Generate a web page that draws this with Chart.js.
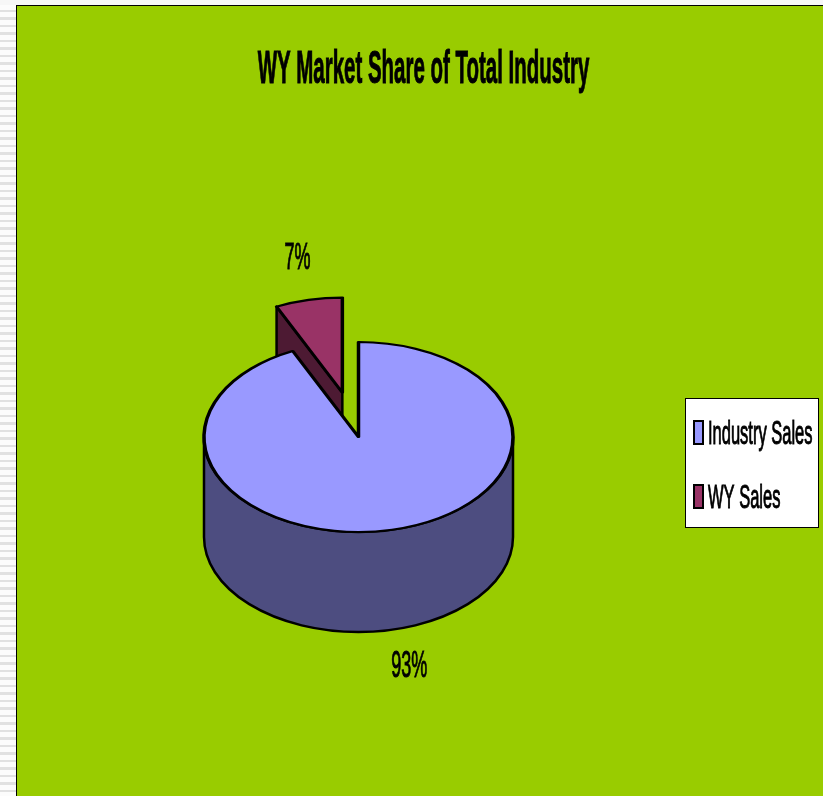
<!DOCTYPE html>
<html>
<head>
<meta charset="utf-8">
<script src="https://cdn.jsdelivr.net/npm/chart.js@4.4.1/dist/chart.umd.min.js"></script>
<style>
html,body{margin:0;padding:0;width:823px;height:796px;overflow:hidden;background:#f7f7f7;}
#strip{position:absolute;left:0;top:5px;width:16px;height:791px;background:repeating-linear-gradient(to bottom,#fcfcfc 0,#fcfcfc 5px,#e1e1e1 5px,#e1e1e1 7.5px);}
#frame{position:absolute;left:16px;top:5px;width:807px;height:791px;box-sizing:border-box;border-left:1px solid #000;border-top:1px solid #000;background:#99cc00;}
canvas{display:block;}
</style>
</head>
<body>
<div id="strip"></div>
<div id="frame"><canvas id="pie" width="806" height="790"></canvas></div>
<script>
// chart data
const TITLE   = 'WY Market Share of Total Industry';
const labels  = ['Industry Sales', 'WY Sales'];
const shares  = [93, 7];
const fills   = ['#9999ff', '#993366'];
const explode = [0, 74];   // pulled-out distance of each slice

const SQUASH = 0.615;  // tilt of the pie (ellipse height / width)
const DEPTH  = 100;    // thickness of the pie

function darker(hex, f) {
  const n = parseInt(hex.slice(1), 16);
  const r = Math.round(((n >> 16) & 255) * f), g = Math.round(((n >> 8) & 255) * f), b = Math.round((n & 255) * f);
  return 'rgb(' + r + ',' + g + ',' + b + ')';
}

function centerY(chart) { return (chart.chartArea.top + chart.chartArea.bottom) / 2; }

// squashed geometry of one arc
function geom(chart, el) {
  const y0 = centerY(chart);
  return { cx: el.x, cy: y0 + (el.y - y0) * SQUASH, r: el.outerRadius };
}

function drawWalls(ctx, g, s, e, col) {
  const K = SQUASH;
  // curved outer wall, only the part facing us (lower half)
  [[0, Math.PI], [2 * Math.PI, 3 * Math.PI], [-2 * Math.PI, -Math.PI]].forEach(function (rng) {
    const lo = Math.max(s, rng[0]), hi = Math.min(e, rng[1]);
    if (hi - lo < 1e-4) return;
    ctx.beginPath();
    ctx.ellipse(g.cx, g.cy, g.r, g.r * K, 0, lo, hi, false);
    ctx.lineTo(g.cx + g.r * Math.cos(hi), g.cy + g.r * K * Math.sin(hi) + DEPTH);
    ctx.ellipse(g.cx, g.cy + DEPTH, g.r, g.r * K, 0, hi, lo, true);
    ctx.closePath();
    ctx.fillStyle = col; ctx.fill(); ctx.stroke();
  });
  // radial faces
  function face(a) {
    const px = g.cx + g.r * Math.cos(a), py = g.cy + g.r * K * Math.sin(a);
    ctx.beginPath();
    ctx.moveTo(g.cx, g.cy); ctx.lineTo(px, py); ctx.lineTo(px, py + DEPTH); ctx.lineTo(g.cx, g.cy + DEPTH);
    ctx.closePath();
    ctx.fillStyle = col; ctx.fill(); ctx.stroke();
  }
  if (Math.cos(s) < -1e-6) face(s);
  if (Math.cos(e) > 1e-6) face(e);
}

function squashText(ctx, txt, x, y, font, sx, align, base, bold) {
  ctx.save();
  ctx.font = font; ctx.fillStyle = '#000'; ctx.strokeStyle = '#000';
  ctx.textAlign = align; ctx.textBaseline = base || 'alphabetic';
  ctx.translate(x, y); ctx.scale(sx, 1);
  ctx.fillText(txt, 0, 0);
  if (bold) { ctx.lineWidth = bold; ctx.strokeText(txt, 0, 0); }
  ctx.restore();
}

const pie3d = {
  id: 'pie3d',
  afterDatasetsUpdate(chart) {
    const ds = chart.data.datasets[0];
    chart.getDatasetMeta(0).data.forEach(function (el, i) {
      const d = ds.explode[i] || 0, half = (el.startAngle + el.endAngle) / 2;
      el.x += Math.cos(half) * d; el.y += Math.sin(half) * d;
    });
  },
  beforeDatasetsDraw(chart) {
    const ctx = chart.ctx, meta = chart.getDatasetMeta(0), ds = chart.data.datasets[0];
    const y0 = centerY(chart);
    const order = meta.data.map(function (el, i) { return i; })
      .sort(function (a, b) { return meta.data[a].y - meta.data[b].y; });
    ctx.save();
    ctx.strokeStyle = '#000'; ctx.lineWidth = 2.5; ctx.lineJoin = 'round';
    order.forEach(function (i) {
      const el = meta.data[i];
      drawWalls(ctx, geom(chart, el), el.startAngle, el.endAngle, darker(ds.backgroundColor[i], 0.5));
    });
    ctx.restore();
    // top faces: let the library draw them, squashed
    ctx.save();
    ctx.translate(0, y0); ctx.scale(1, SQUASH); ctx.translate(0, -y0);
  },
  afterDatasetsDraw(chart) {
    chart.ctx.restore();
  },
  afterDraw(chart) {
    const ctx = chart.ctx, meta = chart.getDatasetMeta(0);
    const vals = chart.data.datasets[0].data;
    const total = vals.reduce(function (s, v) { return s + v; }, 0);
    const y0 = centerY(chart);

    squashText(ctx, TITLE, 406.5, 77, 'bold 46px "Liberation Sans", Arial, sans-serif', 0.445, 'center', 'alphabetic', 1);

    meta.data.forEach(function (el, i) {
      const half = (el.startAngle + el.endAngle) / 2, rr = el.outerRadius * 1.42;
      const x = el.x + Math.cos(half) * rr + 3;
      const y = y0 + (el.y - y0 + Math.sin(half) * rr) * SQUASH + (Math.sin(half) > 0 ? DEPTH : 0) - 2;
      squashText(ctx, Math.round(vals[i] / total * 100) + '%', x, y, '36px "Liberation Sans", Arial, sans-serif', 0.5, 'center', 'middle', 1);
    });

    // legend
    ctx.save();
    ctx.fillStyle = '#fff'; ctx.fillRect(668, 392, 134, 130);
    ctx.strokeStyle = '#000'; ctx.lineWidth = 1; ctx.strokeRect(668.5, 392.5, 133, 129);
    chart.data.labels.forEach(function (lab, i) {
      const base = 438 + i * 64;
      ctx.fillStyle = chart.data.datasets[0].backgroundColor[i];
      ctx.fillRect(677, base - 23, 9, 23);
      ctx.lineWidth = 2; ctx.strokeRect(677, base - 23, 9, 23);
      squashText(ctx, lab, 691, base, '33px "Liberation Sans", Arial, sans-serif', 0.5, 'left', 'alphabetic', 1);
    });
    ctx.restore();
  }
};

new Chart(document.getElementById('pie'), {
  type: 'pie',
  data: {
    labels: labels,
    datasets: [{
      data: shares,
      explode: explode,
      backgroundColor: fills,
      borderColor: '#000',
      borderWidth: 3.5,
      hoverBorderWidth: 3.5,
      hoverOffset: 0,
      borderJoinStyle: 'round',
      clip: false
    }]
  },
  options: {
    responsive: false,
    animation: false,
    events: [],
    radius: 154.5,
    layout: { padding: { left: 20, right: 143, top: 100, bottom: 28 } },
    plugins: { legend: { display: false }, title: { display: false }, tooltip: { enabled: false } }
  },
  plugins: [pie3d]
});
</script>
</body>
</html>
